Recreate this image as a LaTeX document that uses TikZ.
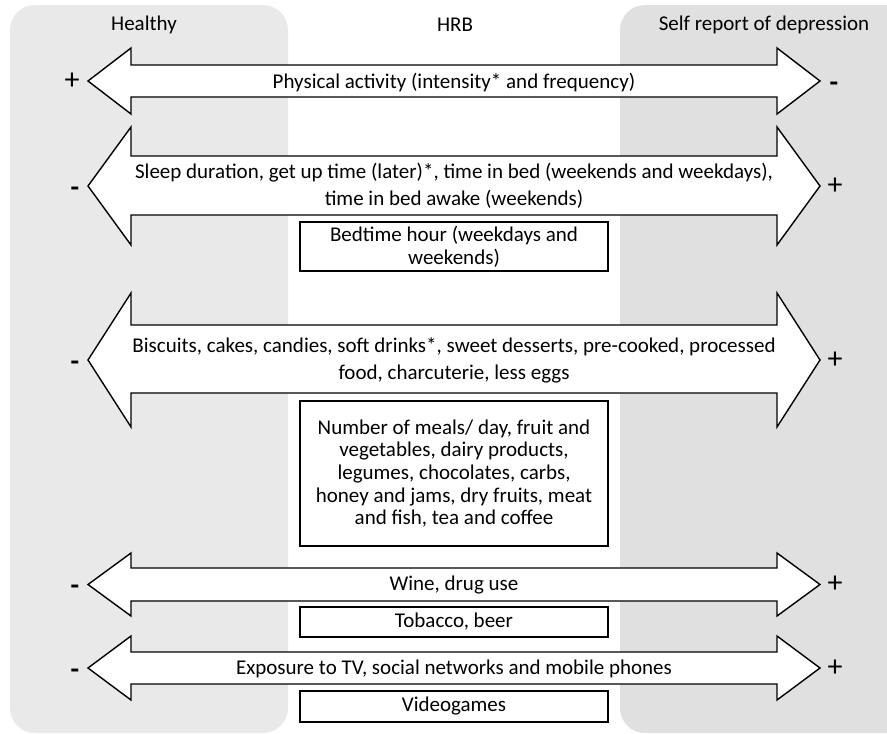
\documentclass[tikz,border=0pt]{standalone}
\usepackage{fontspec}
\setmainfont{Carlito}
\definecolor{leftgray}{HTML}{E9E9E9}
\definecolor{rightgray}{HTML}{E0E0E0}
\tikzset{
  dbl/.style={draw=black, fill=white, line width=1.4pt, line join=miter},
  lbl/.style={font=\fontsize{21}{27}\selectfont, align=center, inner sep=0pt},
  hrbbox/.style={draw=black, fill=white, line width=1.3pt, minimum width=308pt, align=center, inner sep=0pt, font=\fontsize{21}{22.7}\selectfont},
  sign/.style={font=\fontsize{30}{30}\selectfont, inner sep=0pt},
  minussign/.style={font=\bfseries\fontsize{28}{28}\selectfont, inner sep=0pt, yshift=-6pt},
  title/.style={font=\fontsize{21}{24}\selectfont, inner sep=0pt},
}
\newcommand\hrbarrow[5]{%
  \draw[dbl] (88,{(#2+#5)/2}) -- (131,#2) -- (131,#3) -- (777,#3) -- (777,#2) -- (820,{(#2+#5)/2}) -- (777,#5) -- (777,#4) -- (131,#4) -- (131,#5) -- cycle;
  \coordinate (#1) at (454,{(#2+#5)/2});
}
\begin{document}
\begin{tikzpicture}[x=1pt,y=-1pt]
\useasboundingbox (0,0) rectangle (887,734);
\clip (0,0) rectangle (887,734);
% panels
\fill[leftgray, rounded corners=25pt] (10,5) rectangle (288,733);
\fill[rightgray, rounded corners=25pt] (620,5) rectangle (920,733);
% titles
\node[title] (thealthy) at (144,25) {Healthy};
\node[title] (thrb) at (455,25) {HRB};
\node[title] (tdep) at (764,25) {Self report of depression};
% arrows
\hrbarrow{a1}{48}{65}{97}{114}
\hrbarrow{a2}{127}{156}{215}{245}
\hrbarrow{a3}{293}{325}{393}{427}
\hrbarrow{a4}{553}{568}{601}{616}
\hrbarrow{a5}{636}{652}{684}{700}
% arrow labels
\node[lbl] (l1) at ([yshift=-2pt]a1) {Physical activity (intensity* and frequency)};
\node[lbl] (l2) at (a2) {Sleep duration, get up time (later)*, time in bed (weekends and weekdays),\\time in bed awake (weekends)};
\node[lbl] (l3) at (a3) {Biscuits, cakes, candies, soft drinks*, sweet desserts, pre-cooked, processed\\food, charcuterie, less eggs};
\node[lbl] (l4) at ([yshift=-1pt]a4) {Wine, drug use};
\node[lbl] (l5) at ([yshift=-1pt]a5) {Exposure to TV, social networks and mobile phones};
% signs
\node[sign] (s1l) at (72,81) {+};
\node[minussign] (s1r) at (834,81) {-};
\node[minussign] (s2l) at (75,186) {-};
\node[sign] (s2r) at (835,186) {+};
\node[minussign] (s3l) at (75,360) {-};
\node[sign] (s3r) at (835,360) {+};
\node[minussign] (s4l) at (75,584) {-};
\node[sign] (s4r) at (835,584) {+};
\node[minussign] (s5l) at (75,668) {-};
\node[sign] (s5r) at (835,668) {+};
% boxes
\node[hrbbox, minimum height=49pt] (b1) at (454,246.5) {Bedtime hour (weekdays and\\weekends)};
\node[hrbbox, minimum height=145pt] (b2) at (454,473.5) {Number of meals/ day, fruit and\\vegetables, dairy products,\\legumes, chocolates, carbs,\\honey and jams, dry fruits, meat\\and fish, tea and coffee};
\node[hrbbox, minimum height=30pt] (b3) at (454,622) {Tobacco, beer};
\node[hrbbox, minimum height=31pt] (b4) at (454,706.5) {Videogames};
\end{tikzpicture}
\end{document}
